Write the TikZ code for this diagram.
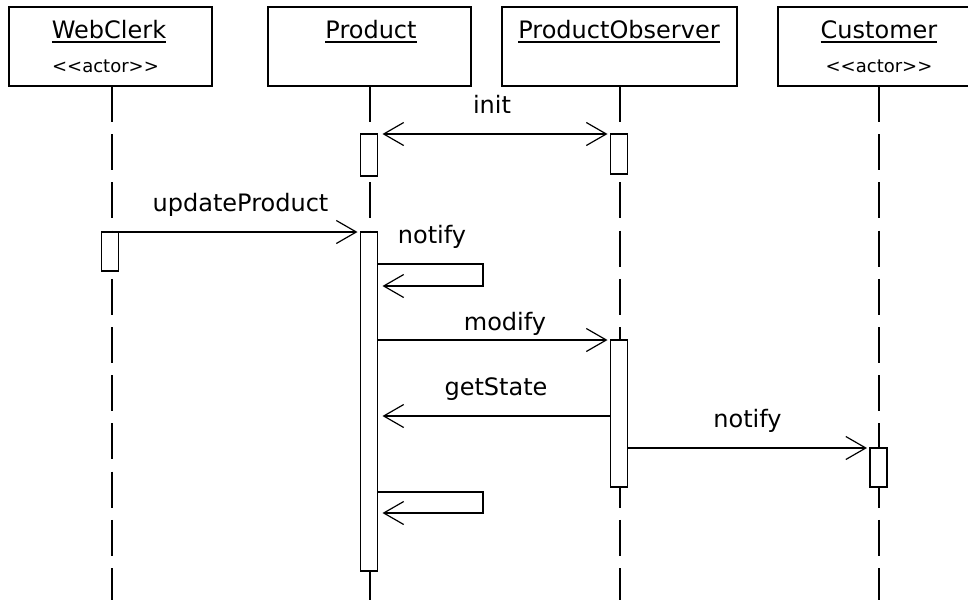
\documentclass[tikz,border=0pt]{standalone}
\usepackage{fontspec}
\setmainfont{DejaVu Sans}
\usetikzlibrary{arrows.meta}

\begin{document}
\begin{tikzpicture}[x=1pt,y=-1pt,
  every node/.style={inner sep=0pt, outer sep=0pt},
  objbox/.style={draw, line width=1.8pt, minimum height=79pt, anchor=north west},
  title/.style={font=\fontsize{24}{24}\selectfont, anchor=base},
  stereo/.style={font=\fontsize{18}{18}\selectfont, anchor=base},
  uline/.style={line width=1.5pt},
  lifeline/.style={line width=2pt, dash pattern=on 36pt off 12.2pt},
  actbar/.style={draw, fill=white, line width=1.8pt, minimum width=17pt, anchor=north},
  opentip/.tip={Straight Barb[length=20pt,width=23pt,line width=1.2pt]},
  msg/.style={line width=1.8pt, -opentip, shorten >=3pt},
  backmsg/.style={line width=1.8pt, -opentip, shorten >=5pt},
  lbl/.style={font=\fontsize{24}{24}\selectfont, anchor=base},
]
\clip (0,0) rectangle (968,600);
\fill[white] (0,0) rectangle (968,600);

% object boxes
\node[objbox, minimum width=203pt] (wcbox) at (9,7) {};
\node[objbox, minimum width=203pt] (pbox)  at (268,7) {};
\node[objbox, minimum width=235pt] (pobox) at (502,7) {};
\node[objbox, minimum width=203pt] (cbox)  at (778,7) {};

% object names and stereotypes
\node[title] (wct) at (109,38) {WebClerk};
\node[title] (pt)  at (371,38) {Product};
\node[title] (pot) at (619,38) {ProductObserver};
\node[title] (ct)  at (879,38) {Customer};
\foreach \t in {wct,pt,pot,ct}
  \draw[uline] ([yshift=-4pt]\t.base west) -- ([yshift=-4pt]\t.base east);
\node[stereo] (wcs) at (105.5,72) {<{}<actor>{}>};
\node[stereo] (cs)  at (879,72) {<{}<actor>{}>};

% lifelines
\coordinate (wcend) at (wcbox.south |- 0,600);
\coordinate (pend)  at (pbox.south |- 0,600);
\coordinate (poend) at (pobox.south |- 0,600);
\coordinate (cend)  at (cbox.south |- 0,600);
\draw[lifeline] ([xshift=1.5pt]wcbox.south) -- ([xshift=1.5pt]wcend);
\draw[lifeline] ([xshift=0.5pt]pbox.south) -- ([xshift=0.5pt]pend);
\draw[lifeline] ([xshift=0.5pt]pobox.south) -- ([xshift=0.5pt]poend);
\draw[lifeline] ([xshift=-0.5pt]cbox.south) -- ([xshift=-0.5pt]cend);

% activation bars
\node[actbar, minimum height=39pt]  (wcbar) at (110,232) {};
\node[actbar, minimum height=42pt]  (pbar1) at (369,134) {};
\node[actbar, minimum height=40pt]  (pobar1) at (619,134) {};
\node[actbar, minimum height=339pt] (pbar2) at (369,232) {};
\node[actbar, minimum height=147pt] (pobar2) at (619,340) {};
\node[actbar, minimum height=39pt]  (cbar) at (878.5,448) {};

% self-call corners
\coordinate (s1a) at (483,264);
\coordinate (s1b) at (483,286);
\coordinate (s2a) at (483,492);
\coordinate (s2b) at (483,513);

% messages
\draw[msg, opentip-opentip, shorten <=5pt] (pbar1.north east) -- (pobar1.north west);
\draw[msg] (wcbar.north east) -- (pbar2.north west);
\draw[backmsg] (pbar2.east |- s1a) -- (s1a) -- (s1b) -- (pbar2.east |- s1b);
\draw[msg] (pbar2.east |- pobar2.north) -- (pobar2.north west);
\draw[backmsg] (pobar2.west |- 0,416) -- (pbar2.east |- 0,416);
\draw[msg] (pobar2.east |- cbar.north) -- (cbar.north west);
\draw[backmsg] (pbar2.east |- s2a) -- (s2a) -- (s2b) -- (pbar2.east |- s2b);

% message labels
\node[lbl] (linit)   at (492,113)   {init};
\node[lbl] (lupd)    at (240.5,211) {updateProduct};
\node[lbl] (lnot1)   at (432,243)   {notify};
\node[lbl] (lmod)    at (505,330)   {modify};
\node[lbl] (lget)    at (496,395)   {getState};
\node[lbl] (lnot2)   at (747.5,427) {notify};
\end{tikzpicture}
\end{document}
